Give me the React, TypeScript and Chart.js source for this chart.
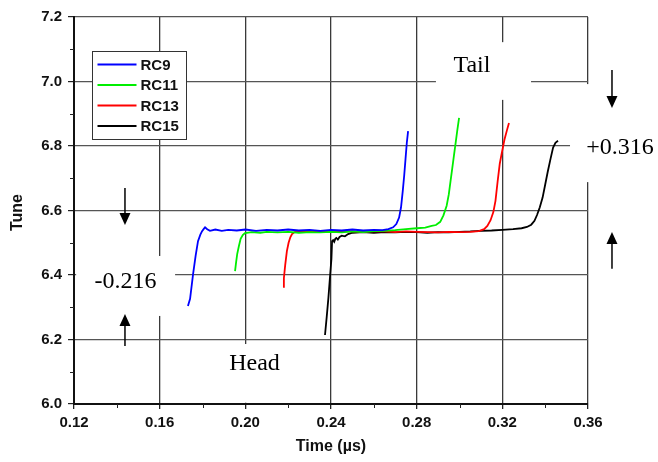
import React, { useEffect, useRef } from 'react';
import { Chart, registerables } from 'chart.js';

Chart.register(...registerables);

// ---- data ----
const seriesNames = ['RC9', 'RC11', 'RC13', 'RC15'];
const seriesColors = ['#0000ff', '#00ee00', '#ff0000', '#000000'];

const rc9Time = [0.1732, 0.1742, 0.1756, 0.1768, 0.1779, 0.1790, 0.1798, 0.1806, 0.1812, 0.1822, 0.1835, 0.1860, 0.1890, 0.1920, 0.1960, 0.2000, 0.2050, 0.2100, 0.2150, 0.2200, 0.2250, 0.2300, 0.2350, 0.2400, 0.2450, 0.2500, 0.2550, 0.2600, 0.2640, 0.2668, 0.2690, 0.2705, 0.2718, 0.2727, 0.2735, 0.2742, 0.2748, 0.2754, 0.2760];
const rc9Tune = [6.304, 6.326, 6.403, 6.46, 6.505, 6.525, 6.536, 6.543, 6.548, 6.542, 6.537, 6.541, 6.537, 6.540, 6.538, 6.541, 6.537, 6.540, 6.538, 6.541, 6.538, 6.540, 6.537, 6.540, 6.538, 6.541, 6.538, 6.540, 6.539, 6.542, 6.548, 6.558, 6.578, 6.61, 6.66, 6.71, 6.76, 6.81, 6.846];

const rc11Time = [0.1952, 0.1957, 0.1962, 0.1970, 0.1978, 0.1988, 0.1998, 0.2030, 0.2070, 0.2100, 0.2150, 0.2200, 0.2250, 0.2300, 0.2350, 0.2400, 0.2450, 0.2500, 0.2550, 0.2600, 0.2650, 0.2700, 0.2750, 0.2800, 0.2840, 0.2870, 0.2890, 0.2910, 0.2925, 0.2940, 0.2950, 0.2958, 0.2966, 0.2974, 0.2982, 0.2990, 0.2998];
const rc11Tune = [6.412, 6.44, 6.465, 6.49, 6.512, 6.524, 6.530, 6.533, 6.531, 6.534, 6.532, 6.534, 6.531, 6.533, 6.532, 6.534, 6.532, 6.535, 6.533, 6.536, 6.537, 6.539, 6.542, 6.545, 6.547, 6.552, 6.555, 6.565, 6.585, 6.615, 6.65, 6.69, 6.73, 6.77, 6.81, 6.85, 6.887];

const rc13Time = [0.2176, 0.2180, 0.2186, 0.2194, 0.2202, 0.2210, 0.2218, 0.2230, 0.2250, 0.2300, 0.2350, 0.2400, 0.2450, 0.2500, 0.2550, 0.2600, 0.2650, 0.2700, 0.2750, 0.2800, 0.2850, 0.2900, 0.2950, 0.3000, 0.3050, 0.3090, 0.3115, 0.3130, 0.3145, 0.3158, 0.3168, 0.3178, 0.3188, 0.3198, 0.3210, 0.3222, 0.3231];
const rc13Tune = [6.363, 6.39, 6.43, 6.474, 6.50, 6.517, 6.527, 6.533, 6.536, 6.534, 6.536, 6.534, 6.536, 6.535, 6.534, 6.536, 6.535, 6.533, 6.535, 6.534, 6.533, 6.532, 6.534, 6.533, 6.534, 6.536, 6.542, 6.552, 6.57, 6.595, 6.63, 6.69, 6.745, 6.78, 6.82, 6.85, 6.871];

const rc15Time = [0.2372, 0.2380, 0.2388, 0.2396, 0.2402, 0.2405, 0.2410, 0.2415, 0.2420, 0.2425, 0.2432, 0.2440, 0.2450, 0.2465, 0.2480, 0.2500, 0.2550, 0.2600, 0.2650, 0.2700, 0.2750, 0.2800, 0.2850, 0.2900, 0.2950, 0.3000, 0.3050, 0.3100, 0.3150, 0.3200, 0.3250, 0.3290, 0.3315, 0.3335, 0.3350, 0.3362, 0.3375, 0.3388, 0.3400, 0.3412, 0.3425, 0.3437, 0.3448, 0.3460];
const rc15Tune = [6.214, 6.27, 6.33, 6.40, 6.45, 6.505, 6.508, 6.503, 6.512, 6.515, 6.510, 6.518, 6.522, 6.520, 6.527, 6.531, 6.533, 6.531, 6.533, 6.532, 6.534, 6.533, 6.531, 6.533, 6.532, 6.534, 6.535, 6.537, 6.538, 6.540, 6.542, 6.545, 6.549, 6.556, 6.568, 6.586, 6.61, 6.64, 6.68, 6.72, 6.76, 6.795, 6.81, 6.816];

const seriesTimes = [rc9Time, rc11Time, rc13Time, rc15Time];
const seriesTunes = [rc9Tune, rc11Tune, rc13Tune, rc15Tune];

// axes
const xMin = 0.12, xMax = 0.36, xStep = 0.04;
const yMin = 6.0, yMax = 7.2, yStep = 0.2;
const xMinorTicks = [0.14, 0.18, 0.22, 0.26, 0.30, 0.34];
const yMinorTicks = [6.1, 6.3, 6.5, 6.7, 6.9, 7.1];
const xTitle = 'Time (\u00b5s)';
const yTitle = 'Tune';

// annotations (data coordinates)
const noteTexts = ['Tail', '+0.316', '-0.216', 'Head'];
const noteX = [0.3058, 0.3749, 0.1440, 0.2043];
const noteY = [7.048, 6.794, 6.378, 6.124];
const boxX0 = [0.2890, 0.3516, 0.1210, 0.1788];
const boxX1 = [0.3334, 0.4000, 0.1672, 0.2302];
const boxY0 = [6.943, 6.688, 6.273, 6.004];
const boxY1 = [7.122, 6.992, 6.459, 6.186];

const arrowX = [0.1438, 0.1438, 0.3712, 0.3712];
const arrowFrom = [6.670, 6.180, 7.036, 6.419];
const arrowTo = [6.555, 6.279, 6.918, 6.533];

const SANS = '"Liberation Sans", Arial, Helvetica, sans-serif';
const SERIF = '"Liberation Serif", "Times New Roman", serif';

const decorPlugin = {
  id: 'decor',
  beforeDatasetsDraw(chart: any) {
    const ctx = chart.ctx;
    const xs = chart.scales.x;
    const ys = chart.scales.y;
    ctx.save();
    ctx.fillStyle = '#ffffff';
    for (let i = 0; i < boxX0.length; i++) {
      const x0 = xs.getPixelForValue(boxX0[i]);
      const x1 = xs.getPixelForValue(boxX1[i]);
      const y0 = ys.getPixelForValue(boxY1[i]);
      const y1 = ys.getPixelForValue(boxY0[i]);
      ctx.fillRect(x0, y0, x1 - x0, y1 - y0);
    }
    ctx.restore();
  },
  afterDraw(chart: any) {
    const ctx = chart.ctx;
    const xs = chart.scales.x;
    const ys = chart.scales.y;
    const area = chart.chartArea;
    ctx.save();

    // minor ticks
    ctx.strokeStyle = '#222';
    ctx.lineWidth = 1;
    ctx.beginPath();
    for (const v of xMinorTicks) {
      const px = Math.round(xs.getPixelForValue(v)) + 0.5;
      ctx.moveTo(px, area.bottom);
      ctx.lineTo(px, area.bottom + 4);
    }
    for (const v of yMinorTicks) {
      const py = Math.round(ys.getPixelForValue(v)) + 0.5;
      ctx.moveTo(area.left - 4, py);
      ctx.lineTo(area.left, py);
    }
    ctx.stroke();

    // annotation texts
    ctx.fillStyle = '#000';
    ctx.font = `24px ${SERIF}`;
    ctx.textAlign = 'center';
    ctx.textBaseline = 'middle';
    for (let i = 0; i < noteTexts.length; i++) {
      ctx.fillText(noteTexts[i], xs.getPixelForValue(noteX[i]), ys.getPixelForValue(noteY[i]));
    }

    // arrows
    ctx.strokeStyle = '#000';
    ctx.fillStyle = '#000';
    ctx.lineWidth = 1.5;
    for (let i = 0; i < arrowX.length; i++) {
      const px = xs.getPixelForValue(arrowX[i]);
      const pFrom = ys.getPixelForValue(arrowFrom[i]);
      const pTo = ys.getPixelForValue(arrowTo[i]);
      const dir = pTo > pFrom ? 1 : -1;
      const headLen = 12;
      ctx.beginPath();
      ctx.moveTo(px, pFrom);
      ctx.lineTo(px, pTo - dir * headLen);
      ctx.stroke();
      ctx.beginPath();
      ctx.moveTo(px, pTo);
      ctx.lineTo(px - 5.5, pTo - dir * headLen);
      ctx.lineTo(px + 5.5, pTo - dir * headLen);
      ctx.closePath();
      ctx.fill();
    }

    // legend
    const lx = area.left + 18.5;
    const ly = area.top + 34.5;
    ctx.fillStyle = '#fff';
    ctx.fillRect(lx, ly, 94, 88);
    ctx.strokeStyle = '#333';
    ctx.lineWidth = 1;
    ctx.strokeRect(lx, ly, 94, 88);
    ctx.font = `bold 15px ${SANS}`;
    ctx.textAlign = 'left';
    ctx.textBaseline = 'middle';
    for (let i = 0; i < seriesNames.length; i++) {
      const rowY = ly + 13 + i * 20.5;
      ctx.strokeStyle = seriesColors[i];
      ctx.lineWidth = 2;
      ctx.beginPath();
      ctx.moveTo(lx + 5, rowY);
      ctx.lineTo(lx + 44, rowY);
      ctx.stroke();
      ctx.fillStyle = '#111';
      ctx.fillText(seriesNames[i], lx + 48, rowY + 1);
    }

    // axis titles
    ctx.fillStyle = '#111';
    ctx.font = `bold 16px ${SANS}`;
    ctx.textAlign = 'center';
    ctx.textBaseline = 'middle';
    ctx.fillText(xTitle, (area.left + area.right) / 2, area.bottom + 43);
    ctx.save();
    ctx.translate(18, (area.top + area.bottom) / 2 + 2);
    ctx.rotate(-Math.PI / 2);
    ctx.fillText(yTitle, 0, 0);
    ctx.restore();

    ctx.restore();
  },
};

export default function App() {
  const ref = useRef<HTMLCanvasElement | null>(null);

  useEffect(() => {
    document.body.style.margin = '0';
    const canvas = ref.current;
    if (!canvas) return;
    const chart = new Chart(canvas, {
      type: 'line',
      data: {
        datasets: seriesNames.map((name, i) => ({
          label: name,
          data: seriesTimes[i].map((t, j) => ({ x: t, y: seriesTunes[i][j] })),
          borderColor: seriesColors[i],
          backgroundColor: seriesColors[i],
          borderWidth: 1.8,
          pointRadius: 0,
          fill: false,
          tension: 0,
        })),
      },
      options: {
        animation: false,
        responsive: false,
        devicePixelRatio: 1,
        layout: { padding: { top: 17, right: 70, left: 0, bottom: 0 } },
        plugins: {
          legend: { display: false },
          tooltip: { enabled: false },
          title: { display: false },
        },
        scales: {
          x: {
            type: 'linear',
            min: xMin,
            max: xMax,
            afterFit: (s: any) => { s.height = 58; },
            ticks: {
              stepSize: xStep,
              autoSkip: false,
              maxRotation: 0,
              color: '#111',
              padding: 5,
              font: { family: SANS, size: 15, weight: 'bold' },
              callback: (v: any) => Number(v).toFixed(2),
            },
            grid: { color: '#3a3a3a', lineWidth: 1.3, tickLength: 5, tickColor: '#222', drawTicks: true },
            border: { color: '#111', width: 2 },
          },
          y: {
            type: 'linear',
            min: yMin,
            max: yMax,
            afterFit: (s: any) => { s.width = 74; },
            ticks: {
              stepSize: yStep,
              color: '#111',
              padding: 6,
              font: { family: SANS, size: 15, weight: 'bold' },
              callback: (v: any) => Number(v).toFixed(1),
            },
            grid: { color: '#555', lineWidth: 1.2, tickLength: 6, tickColor: '#222', drawTicks: true },
            border: { color: '#111', width: 2 },
          },
        },
      } as any,
      plugins: [decorPlugin],
    });
    return () => chart.destroy();
  }, []);

  return (
    <div style={{ position: 'fixed', left: 0, top: 0, width: 658, height: 462, background: '#fff' }}>
      <canvas ref={ref} width={658} height={462} style={{ display: 'block', width: 658, height: 462 }} />
    </div>
  );
}
